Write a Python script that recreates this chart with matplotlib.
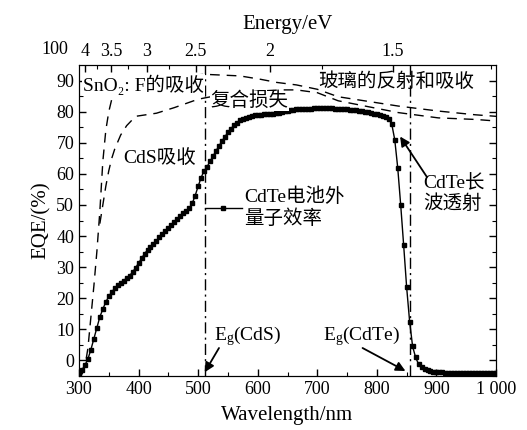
import numpy as np
import matplotlib
matplotlib.use('Agg')
import matplotlib.pyplot as plt
import matplotlib.transforms as mtransforms
from matplotlib.lines import Line2D

plt.rcParams['font.family'] = ['Liberation Serif', 'Noto Sans CJK SC', 'DejaVu Serif']
plt.rcParams['mathtext.fontset'] = 'custom'
plt.rcParams['mathtext.rm'] = 'Liberation Serif'
plt.rcParams['mathtext.it'] = 'Liberation Serif:italic'

# EQE of the CdTe cell, one point every 5 nm
wl = np.arange(300, 1001, 5)
eqe = [
    -4.5, -3.0, -1.5, 0.5, 3.5, 7.0, 10.5, 14.0, 16.5, 18.8,
    20.6, 22.0, 23.2, 24.2, 25.0, 25.7, 26.5, 27.3, 28.4, 29.8,
    31.3, 32.8, 34.3, 35.5, 36.6, 37.5, 38.5, 39.6, 40.6, 41.6,
    42.6, 43.6, 44.6, 45.5, 46.4, 47.3, 48.2, 49.0, 50.5, 53.0,
    56.0, 58.8, 61.0, 62.3, 64.0, 65.7, 67.4, 69.0, 70.5, 72.0,
    73.3, 74.5, 75.6, 76.5, 77.2, 77.7, 78.1, 78.4, 78.6, 78.8,
    78.9, 79.0, 79.1, 79.2, 79.3, 79.4, 79.5, 79.7, 79.9, 80.1,
    80.3, 80.5, 80.6, 80.7, 80.8, 80.9, 81.0, 81.0, 81.0, 81.1,
    81.1, 81.1, 81.1, 81.1, 81.1, 81.1, 81.0, 81.0, 80.9, 80.8,
    80.7, 80.6, 80.5, 80.4, 80.3, 80.1, 80.0, 79.8, 79.6, 79.4,
    79.2, 78.9, 78.6, 78.2, 77.6, 76.0, 71.0, 62.0, 50.0, 37.0,
    23.5, 12.5, 4.5, 1.0, -1.2, -2.2, -2.8, -3.2, -3.4, -3.6,
    -3.7, -3.8, -3.8, -3.9, -3.9, -3.9, -4.0, -4.0, -4.0, -4.0,
    -4.0, -4.0, -4.0, -4.0, -4.0, -4.0, -4.0, -4.0, -4.0, -4.0,
    -4.0,
]

# 玻璃 + SnO2:F 损失后的上限
wl_tco = [305, 310, 315, 320, 325, 330, 335, 340, 345, 350, 355, 365, 380,
          420, 470, 512, 570, 605, 632, 665, 700, 735, 836, 903, 965, 1000]
eqe_tco = [-4.5, -2, 4, 14, 24, 35, 48, 64, 74, 80, 84, 87, 89,
           90.5, 91.5, 92, 91.5, 90.4, 89.4, 88.6, 87.2, 84.8, 81.8, 80.2, 79, 78.5]

# 再加上 CdS 吸收
wl_cds = [335, 340, 345, 350, 355, 360, 370, 380, 395, 430, 460, 500,
          540, 600, 640, 665, 700, 735, 836, 903, 965, 1000]
eqe_cds = [44, 50, 56, 61, 65, 68, 72.5, 75.5, 78.5, 79.5, 81.3, 84,
           85.5, 86.6, 87, 87, 86.1, 83.5, 79.7, 78, 77.5, 77]

eg_cds = 512
eg_cdte = 855

energy_ticks = [4, 3.5, 3, 2.5, 2, 1.5]
energy_minor = [3.75, 3.25, 2.75, 2.25, 1.75, 1.25]

fs_txt = 14
fs_tick = 13
fs_lab = 15

fig = plt.figure(figsize=(5.27, 4.30), dpi=100)
ax = fig.add_axes([0.1499, 0.1256, 0.7913, 0.7232])

ax.plot(wl, eqe, color='k', lw=1, marker='s', ms=2.4, mec='k', mfc='k')
ax.plot(wl_tco, eqe_tco, color='k', lw=1, dashes=(7, 5))
ax.plot(wl_cds, eqe_cds, color='k', lw=1, dashes=(7, 5))
for e in [eg_cds, eg_cdte]:
    ax.axvline(e, color='k', lw=1, dashes=(8, 3, 1.5, 3))

ax.set_xlim(300, 1000)
ax.set_ylim(-5, 95)
ax.set_xticks(np.arange(300, 1001, 100))
ax.set_xticklabels(['300', '400', '500', '600', '700', '800', '900', '1 000'])
ax.set_xticks(np.arange(350, 1000, 100), minor=True)
ax.set_yticks(np.arange(0, 91, 10))
ax.set_yticks(np.arange(-5, 95, 10), minor=True)
ax.tick_params(which='both', direction='in', right=True, labelsize=fs_tick)
ax.tick_params(which='major', length=5, width=1)
ax.tick_params(which='minor', length=3, width=0.8)
ax.set_xlabel('Wavelength/nm', fontsize=fs_lab, labelpad=6)
ax.set_ylabel('EQE/(%)', fontsize=fs_lab, labelpad=4)

# 100 的刻度标签在坐标框外
trans = mtransforms.blended_transform_factory(ax.transAxes, ax.transData)
ax.text(-0.025, 100, '100', transform=trans, ha='right', va='center',
        fontsize=fs_tick, clip_on=False)

# 顶部能量坐标
ax2 = ax.twiny()
ax2.set_xlim(ax.get_xlim())
ax2.set_xticks([1240 / e for e in energy_ticks])
ax2.set_xticklabels([f'{e:g}' for e in energy_ticks])
ax2.set_xticks([1240 / e for e in energy_minor], minor=True)
ax2.tick_params(which='both', direction='in', labelsize=fs_tick)
ax2.tick_params(which='major', length=5, width=1)
ax2.tick_params(which='minor', length=3, width=0.8)
ax2.set_xlabel('Energy/eV', fontsize=fs_lab, labelpad=10)

# 标注（白底盖住虚线）
white = dict(facecolor='white', edgecolor='none', pad=0.5)
ax.text(307, 88.5, 'SnO₂: F的吸收', fontsize=fs_txt, va='center', bbox=white, zorder=5)
ax.text(521, 83.5, '复合损失', fontsize=fs_txt, va='center', bbox=white, zorder=5)
ax.text(702, 89.5, '玻璃的反射和吸收', fontsize=fs_txt, va='center')
ax.text(375, 65, 'CdS吸收', fontsize=fs_txt, va='center')
ax.text(878, 53.5, 'CdTe长\n波透射', fontsize=fs_txt, va='center', linespacing=1.15)
ax.text(526, 8, 'E$_\\mathrm{g}$(CdS)', fontsize=fs_txt, va='center')
ax.text(710, 8, 'E$_\\mathrm{g}$(CdTe)', fontsize=fs_txt, va='center')

arrow = dict(arrowstyle='-|>', color='k', lw=1.3, mutation_scale=14, shrinkA=0, shrinkB=0)
ax.annotate('', xy=(511, -3.8), xytext=(535, 4.0), arrowprops=arrow)
ax.annotate('', xy=(848, -3.4), xytext=(776, 4.0), arrowprops=arrow)
ax.annotate('', xy=(839, 72), xytext=(884, 59), arrowprops=arrow)

handle = Line2D([], [], color='k', lw=1, marker='s', ms=2.4)
ax.legend([handle], ['CdTe电池外\n量子效率'], loc='upper left',
          bbox_to_anchor=(0.302, 0.605), frameon=False, fontsize=fs_txt,
          handlelength=1.9, handletextpad=0.1, borderpad=0, borderaxespad=0)

fig.savefig('out.png', dpi=100)
